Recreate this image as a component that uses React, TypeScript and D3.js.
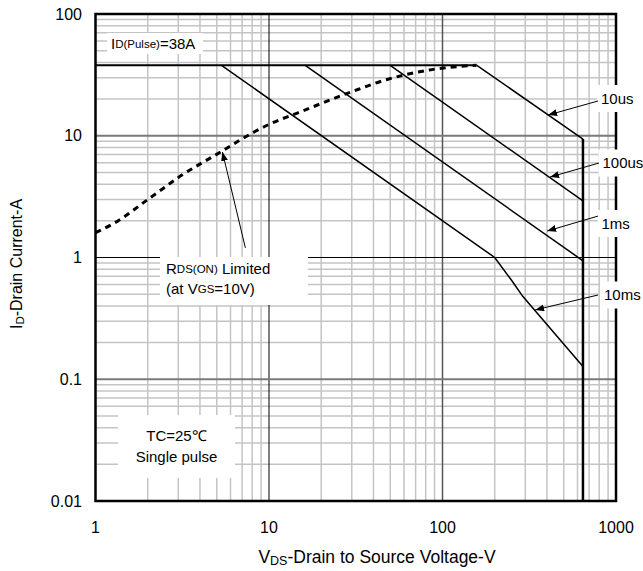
import React from 'react';
import * as d3 from 'd3';

// ---- data ----
const xTickValues = [1, 10, 100, 1000];
const xTickLabels = ['1', '10', '100', '1000'];
const yTickValues = [0.01, 0.1, 1, 10, 100];
const yTickLabels = ['0.01', '0.1', '1', '10', '100'];

const idPulseV = [1, 157];
const idPulseI = [38, 38];

const rdsV = [1, 1.27, 2.07, 3.15, 5.3, 6.8, 10, 14.8, 30, 48, 84, 157];
const rdsI = [1.6, 1.9, 3.1, 4.75, 7.4, 9.2, 12.4, 15.5, 23, 29, 34.7, 38];

const us10V = [157, 645];
const us10I = [38, 9.4];
const us100V = [49.7, 645];
const us100I = [38, 2.92];
const ms1V = [16.1, 645];
const ms1I = [38, 0.94];
const ms10V = [5.3, 200, 250, 290, 645];
const ms10I = [38, 1, 0.65, 0.48, 0.127];
const bvdssV = [645, 645];
const bvdssI = [9.4, 0.01];

const annLabels = ['10us', '100us', '1ms', '10ms'];
const annTipV = [406, 417, 401, 342];
const annTipI = [14.8, 4.58, 1.65, 0.371];
const annTailV = [788, 798, 788, 788];
const annTailI = [19.3, 5.97, 2.19, 0.492];

const rdsTipV = 5.39;
const rdsTipI = 7.36;
const rdsTailV = 7.31;
const rdsTailI = 1.2;

// ---- layout ----
const W = 643;
const H = 571;
const plot = { left: 95.5, right: 616, top: 14, bottom: 501 };
const annTextPos = [
  { x: 601, y: 98 },
  { x: 602.5, y: 162.5 },
  { x: 601.5, y: 223 },
  { x: 604, y: 294.5 },
];
const FONT = '"Liberation Sans", Arial, Helvetica, sans-serif';

const zip = (xs: number[], ys: number[]) => xs.map((v, i) => [v, ys[i]] as [number, number]);

export default function App() {
  const x = d3.scaleLog().domain([1, 1000]).range([plot.left, plot.right]);
  const y = d3.scaleLog().domain([0.01, 100]).range([plot.bottom, plot.top]);

  const line = d3
    .line<[number, number]>()
    .x((d) => x(d[0]))
    .y((d) => y(d[1]));
  const smooth = d3
    .line<[number, number]>()
    .x((d) => x(d[0]))
    .y((d) => y(d[1]))
    .curve(d3.curveMonotoneX);

  const minorX: number[] = [];
  [1, 10, 100].forEach((dec) => {
    for (let k = 2; k <= 9; k++) minorX.push(dec * k);
  });
  const minorY: number[] = [];
  [0.01, 0.1, 1, 10].forEach((dec) => {
    for (let k = 2; k <= 9; k++) minorY.push(dec * k);
  });

  const gridMinor = '#c4c4c4';

  return (
    <svg
      width={W}
      height={H}
      style={{ position: 'absolute', left: 0, top: 0, background: '#fff' }}
      fontFamily={FONT}
    >
      <defs>
        <marker
          id="ah"
          markerUnits="userSpaceOnUse"
          markerWidth={10}
          markerHeight={8}
          refX={9}
          refY={3.5}
          orient="auto"
        >
          <path d="M0,0 L9,3.5 L0,7 z" fill="#000" />
        </marker>
      </defs>
      <rect x={0} y={0} width={W} height={H} fill="#fff" />

      {/* minor grid */}
      {minorX.map((v) => (
        <line key={'mx' + v} x1={x(v)} x2={x(v)} y1={plot.top} y2={plot.bottom} stroke={gridMinor} strokeWidth={1.5} />
      ))}
      {minorY.map((v) => (
        <line key={'my' + v} x1={plot.left} x2={plot.right} y1={y(v)} y2={y(v)} stroke={gridMinor} strokeWidth={1.5} />
      ))}
      {/* major grid */}
      <line x1={x(10)} x2={x(10)} y1={plot.top} y2={plot.bottom} stroke="#000" strokeWidth={1} />
      <line x1={x(100)} x2={x(100)} y1={plot.top} y2={plot.bottom} stroke="#555" strokeWidth={1.5} />
      <line x1={plot.left} x2={plot.right} y1={y(10)} y2={y(10)} stroke="#7a7a7a" strokeWidth={2} />
      <line x1={plot.left} x2={plot.right} y1={y(1)} y2={y(1)} stroke="#000" strokeWidth={1} />
      <line x1={plot.left} x2={plot.right} y1={y(0.1)} y2={y(0.1)} stroke="#7a7a7a" strokeWidth={2} />

      {/* curves */}
      <path d={line(zip(idPulseV, idPulseI)) || ''} fill="none" stroke="#000" strokeWidth={2} />
      <path d={line(zip(us10V, us10I)) || ''} fill="none" stroke="#000" strokeWidth={1.5} />
      <path d={line(zip(us100V, us100I)) || ''} fill="none" stroke="#000" strokeWidth={1.5} />
      <path d={line(zip(ms1V, ms1I)) || ''} fill="none" stroke="#000" strokeWidth={1.5} />
      <path d={line(zip(ms10V, ms10I)) || ''} fill="none" stroke="#000" strokeWidth={1.5} />
      <path d={line(zip(bvdssV, bvdssI)) || ''} fill="none" stroke="#000" strokeWidth={2.5} />
      <path
        d={smooth(zip(rdsV, rdsI)) || ''}
        fill="none"
        stroke="#000"
        strokeWidth={3}
        strokeDasharray="6,5"
      />

      {/* border */}
      <rect
        x={plot.left}
        y={plot.top}
        width={plot.right - plot.left}
        height={plot.bottom - plot.top}
        fill="none"
        stroke="#000"
        strokeWidth={2.5}
      />

      {/* tick labels */}
      {yTickValues.map((v, i) => (
        <text key={'yt' + v} x={82} y={y(v)} textAnchor="end" dominantBaseline="central" fontSize={16} fill="#000">
          {yTickLabels[i]}
        </text>
      ))}
      {xTickValues.map((v, i) => (
        <text key={'xt' + v} x={x(v)} y={527} textAnchor="middle" dominantBaseline="central" fontSize={16} fill="#000">
          {xTickLabels[i]}
        </text>
      ))}

      {/* axis titles */}
      <text x={377} y={557} textAnchor="middle" dominantBaseline="central" fontSize={17.5} fill="#000">
        V<tspan fontSize={12.5} dy={4}>DS</tspan>
        <tspan dy={-4}>-Drain to Source Voltage-V</tspan>
      </text>
      <text
        transform="translate(16,264) rotate(-90)"
        textAnchor="middle"
        dominantBaseline="central"
        fontSize={16}
        fill="#000"
      >
        I<tspan fontSize={11.5} dy={4}>D</tspan>
        <tspan dy={-4}>-Drain Current-A</tspan>
      </text>

      {/* ID(Pulse) label */}
      <rect x={107} y={33} width={96} height={21} fill="#fff" />
      <text x={111} y={43.5} dominantBaseline="central" fontSize={15} fill="#000">
        I<tspan fontSize={11.5}>D(Pulse)</tspan>=38A
      </text>

      {/* RDS(ON) label */}
      <rect x={160} y={257} width={148} height={48} fill="#fff" />
      <text x={166} y={268.5} dominantBaseline="central" fontSize={15} fill="#000">
        R<tspan fontSize={11.5}>DS(ON)</tspan> Limited
      </text>
      <text x={166} y={288.5} dominantBaseline="central" fontSize={15} fill="#000">
        (at V<tspan fontSize={11.5}>GS</tspan>=10V)
      </text>
      <line
        x1={x(rdsTailV)}
        y1={y(rdsTailI)}
        x2={x(rdsTipV)}
        y2={y(rdsTipI)}
        stroke="#000"
        strokeWidth={1}
        markerEnd="url(#ah)"
      />

      {/* TC box */}
      <rect x={118} y={415} width={117} height={63} fill="#fff" />
      <text x={176.5} y={435} textAnchor="middle" dominantBaseline="central" fontSize={15} fill="#000">
        TC=25℃
      </text>
      <text x={176.5} y={456} textAnchor="middle" dominantBaseline="central" fontSize={15} fill="#000">
        Single pulse
      </text>

      {/* pulse-width annotations */}
      {annLabels.map((lab, i) => (
        <g key={lab}>
          <rect x={annTextPos[i].x - 4} y={annTextPos[i].y - 13} width={W - annTextPos[i].x + 4} height={27} fill="#fff" />
          <text x={annTextPos[i].x} y={annTextPos[i].y} dominantBaseline="central" fontSize={15} fill="#000">
            {lab}
          </text>
          <line
            x1={x(annTailV[i])}
            y1={y(annTailI[i])}
            x2={x(annTipV[i])}
            y2={y(annTipI[i])}
            stroke="#000"
            strokeWidth={1}
            markerEnd="url(#ah)"
          />
        </g>
      ))}
    </svg>
  );
}
